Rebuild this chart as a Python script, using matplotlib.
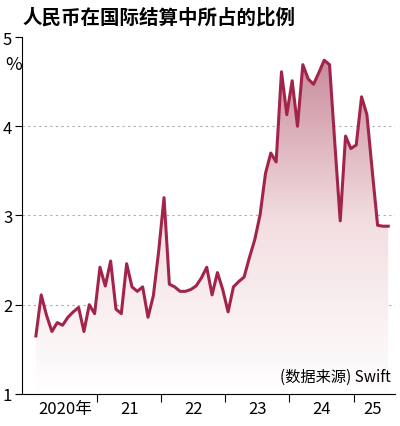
import numpy as np
import matplotlib.pyplot as plt
from matplotlib.colors import LinearSegmentedColormap

plt.rcParams['font.family'] = ['Noto Sans CJK SC', 'DejaVu Sans']

# monthly share (%) from Jan 2020
share = [1.65, 2.11, 1.88, 1.70, 1.80, 1.77, 1.86, 1.92, 1.97, 1.70, 2.00, 1.90,
         2.42, 2.21, 2.49, 1.95, 1.90, 2.46, 2.20, 2.15, 2.20, 1.86, 2.10, 2.60,
         3.20, 2.23, 2.20, 2.15, 2.15, 2.17, 2.21, 2.30, 2.42, 2.11, 2.36, 2.17,
         1.92, 2.20, 2.26, 2.31, 2.53, 2.73, 3.01, 3.47, 3.70, 3.60, 4.61, 4.13,
         4.51, 4.00, 4.69, 4.53, 4.47, 4.60, 4.74, 4.69, 3.80, 2.94, 3.89, 3.75,
         3.79, 4.33, 4.13, 3.50, 2.89, 2.88, 2.88]
year_labels = ['2020年', '21', '22', '23', '24', '25']

x = np.arange(len(share))
y = np.array(share)

fig = plt.figure(figsize=(4, 4.27), dpi=100)
ax = fig.add_axes([0.055, 0.075, 0.933, 0.836])
ax.set_xlim(-2.6, 67.3)
ax.set_ylim(1, 5)

# gradient fill under the line
poly = ax.fill_between(x, 1, y, color='none')
cmap = LinearSegmentedColormap.from_list('g', ['#ffffff', '#f3dfe2', '#c8899a'])
grad = np.linspace(0, 1, 256).reshape(-1, 1)
im = ax.imshow(grad, extent=[x[0], x[-1], 1, 4.8], origin='lower', aspect='auto',
               cmap=cmap, zorder=1)
im.set_clip_path(poly.get_paths()[0], transform=ax.transData)
ax.plot(x, y, color='#a3244a', lw=2.2, zorder=3)

for v in [2, 3, 4]:
    ax.axhline(v, color='#aaaaaa', lw=0.8, ls=(0, (2, 3)), zorder=0)

ax.set_yticks([1, 2, 3, 4, 5])
ax.set_yticklabels(['1', '2', '3', '4', '5'], fontsize=12)
ax.tick_params(axis='y', length=5, pad=2)
seps = [11.5, 23.5, 35.5, 47.5, 59.5]
ax.set_xticks(seps)
ax.set_xticklabels([])
ax.tick_params(axis='x', length=6, direction='out')
for i, lab in enumerate(year_labels):
    ax.text(5.5 + 12 * i if i < 5 else 63, 0.93, lab, ha='center', va='top', fontsize=12)
ax.spines['top'].set_visible(False)
ax.spines['right'].set_visible(False)

fig.text(0.012, 0.835, '%', fontsize=13)
fig.text(0.055, 0.945, '人民币在国际结算中所占的比例', fontsize=14, fontweight='bold')
ax.text(66.5, 1.2, '(数据来源) Swift', ha='right', va='center', fontsize=11)

fig.savefig('out.png')
